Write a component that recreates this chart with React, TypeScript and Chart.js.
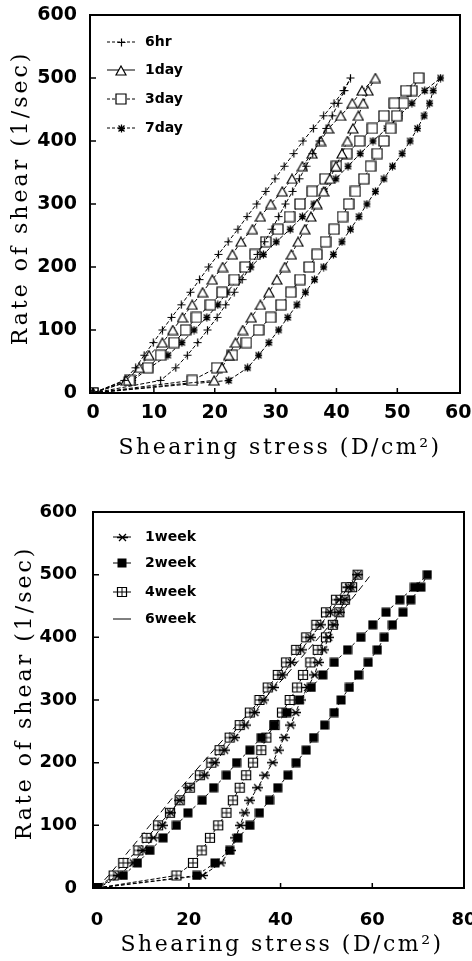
import React, { useEffect, useRef } from 'react';
import { Chart, registerables } from 'chart.js';

Chart.register(...registerables);

// Rate of shear (1/sec) at which every point was read
const RATES = [0, 20, 40, 60, 80, 100, 120, 140, 160, 180, 200, 220, 240, 260, 280, 300, 320, 340, 360, 380, 400, 420, 440, 460, 480, 500];

// ---------- top panel: shearing stress (D/cm²), up curve and down curve ----------
const TOP_LABELS = ['6hr', '1day', '3day', '7day'];
const HR6_UP = [0, 11.1, 13.6, 15.5, 17.2, 18.8, 20.4, 21.8, 23.2, 24.5, 25.8, 27.0, 28.2, 29.4, 30.5, 31.6, 32.8, 33.9, 35.0, 36.1, 37.2, 38.3, 39.3, 40.3, 41.3, 42.3];
const HR6_DOWN = [0, 5.1, 7.0, 8.4, 9.9, 11.4, 12.9, 14.5, 16.0, 17.5, 19.0, 20.6, 22.2, 23.8, 25.3, 26.9, 28.4, 29.9, 31.4, 33.0, 34.5, 36.2, 37.9, 39.6, 41.2, 42.3];
const DAY1_UP = [0, 19.9, 21.2, 22.3, 23.4, 24.6, 26.0, 27.5, 28.9, 30.2, 31.5, 32.6, 33.7, 34.8, 35.8, 36.8, 37.9, 38.9, 39.9, 40.9, 41.8, 42.7, 43.6, 44.4, 45.2, 46.4];
const DAY1_DOWN = [0, 5.4, 7.6, 9.2, 11.4, 13.1, 14.7, 16.3, 18.0, 19.6, 21.3, 22.9, 24.3, 26.2, 27.5, 29.2, 31.1, 32.7, 34.4, 36.0, 37.4, 38.7, 40.7, 42.6, 44.2, 46.4];
const DAY3_UP = [0, 16.3, 20.3, 22.9, 25.2, 27.2, 29.2, 30.9, 32.5, 34.0, 35.5, 36.8, 38.2, 39.6, 41.0, 42.0, 43.1, 44.5, 45.6, 46.7, 47.8, 48.9, 49.9, 51.0, 52.4, 53.5];
const DAY3_DOWN = [0, 6.0, 9.0, 11.1, 13.3, 15.2, 17.0, 19.3, 21.2, 23.2, 25.0, 26.6, 28.4, 30.4, 32.3, 34.0, 36.0, 38.1, 40.0, 41.7, 43.8, 45.9, 47.8, 49.5, 51.4, 53.5];
const DAY7_UP = [0, 22.3, 25.4, 27.2, 28.9, 30.5, 32.0, 33.5, 34.9, 36.4, 37.9, 39.5, 40.9, 42.3, 43.7, 45.0, 46.4, 47.8, 49.2, 50.8, 52.1, 53.3, 54.4, 55.3, 55.9, 57.1];
const DAY7_DOWN = [0, 6.5, 9.3, 12.3, 14.6, 16.6, 18.7, 20.5, 22.0, 23.8, 25.9, 28.0, 30.1, 32.4, 34.4, 36.3, 38.0, 39.9, 41.9, 43.9, 46.0, 48.3, 50.3, 52.4, 54.5, 57.1];

// ---------- bottom panel ----------
const BOTTOM_LABELS = ['1week', '2week', '4week', '6week'];
const WK1_UP = [0, 23.0, 27.0, 29.0, 30.2, 31.2, 32.2, 33.3, 35.0, 36.6, 38.3, 39.5, 40.8, 42.2, 43.3, 44.4, 45.9, 47.4, 48.3, 49.4, 50.5, 51.6, 52.8, 54.1, 55.4, 56.8];
const WK1_DOWN = [0, 4.6, 7.9, 10.0, 12.3, 14.3, 16.0, 18.0, 20.0, 23.5, 25.7, 27.8, 30.0, 32.3, 34.4, 36.3, 38.4, 40.4, 42.4, 44.5, 46.6, 48.7, 50.8, 52.8, 54.8, 56.8];
const WK2_UP = [0, 21.7, 25.7, 28.9, 30.7, 33.3, 35.4, 37.6, 39.4, 41.6, 43.4, 45.6, 47.2, 49.6, 51.7, 53.2, 55.0, 57.0, 59.1, 61.1, 62.6, 64.4, 66.7, 68.4, 70.6, 72.0];
const WK2_DOWN = [0, 5.7, 8.8, 11.5, 14.4, 17.3, 19.8, 22.9, 25.4, 28.2, 30.4, 33.3, 35.8, 38.6, 41.4, 44.1, 46.7, 49.2, 51.7, 54.6, 57.5, 60.1, 63.0, 66.0, 69.2, 72.0];
const WK4_UP = [0, 17.3, 20.9, 22.8, 24.6, 26.4, 28.2, 29.6, 31.1, 32.5, 34.0, 35.8, 36.9, 38.7, 40.3, 42.0, 43.6, 44.9, 46.5, 48.1, 49.9, 51.4, 52.8, 54.0, 55.6, 56.8];
const WK4_DOWN = [0, 3.6, 5.7, 9.0, 10.8, 13.3, 15.9, 18.0, 20.2, 22.4, 24.9, 26.7, 28.9, 31.1, 33.3, 35.4, 37.2, 39.4, 41.2, 43.4, 45.6, 47.8, 49.9, 52.1, 54.3, 56.8];
const WK6_LINE = [0, 2.5, 4.8, 7.0, 9.3, 11.5, 13.8, 16.0, 18.3, 20.6, 23.0, 25.4, 27.9, 30.5, 33.3, 36.2, 38.8, 41.3, 43.6, 46.0, 48.4, 50.8, 53.2, 55.4, 57.6, 59.7];

// ---------- axes ----------
const TOP_X_TICKS = [0, 10, 20, 30, 40, 50, 60];
const BOTTOM_X_TICKS = [0, 20, 40, 60, 80];
const Y_TICKS = [0, 100, 200, 300, 400, 500, 600];
const X_TITLE = 'Shearing stress (D/cm\u00B2)';
const Y_TITLE = 'Rate of shear (1/sec)';

function loop(up: number[], down: number[]) {
  const pts = up.map((x, i) => ({ x, y: RATES[i] }));
  for (let i = down.length - 2; i >= 0; i--) pts.push({ x: down[i], y: RATES[i] });
  return pts;
}
function path(xs: number[]) {
  return xs.map((x, i) => ({ x, y: RATES[i] }));
}

function makeMarker(kind: string): HTMLCanvasElement {
  const sizes: Record<string, [number, number]> = {
    plus: [9, 9], triangle: [12, 11], square: [12, 12], star: [9, 9],
    xbar: [11, 9], filled: [10, 10], grid: [12, 12],
  };
  const [w, h] = sizes[kind];
  const c = document.createElement('canvas');
  c.width = w; c.height = h;
  const g = c.getContext('2d')!;
  g.strokeStyle = '#000';
  g.fillStyle = '#fff';
  g.lineWidth = 1.2;
  const mx = w / 2, my = h / 2;
  g.beginPath();
  if (kind === 'plus') {
    g.moveTo(mx, 0.5); g.lineTo(mx, h - 0.5);
    g.moveTo(0.5, my); g.lineTo(w - 0.5, my);
    g.stroke();
  } else if (kind === 'triangle') {
    g.moveTo(mx, 1); g.lineTo(w - 1, h - 1); g.lineTo(1, h - 1); g.closePath();
    g.fill(); g.stroke();
  } else if (kind === 'square') {
    g.rect(1, 1, w - 2, h - 2); g.fill(); g.stroke();
  } else if (kind === 'star') {
    g.moveTo(mx, 0.5); g.lineTo(mx, h - 0.5);
    g.moveTo(1.5, 1.5); g.lineTo(w - 1.5, h - 1.5);
    g.moveTo(w - 1.5, 1.5); g.lineTo(1.5, h - 1.5);
    g.moveTo(1, my); g.lineTo(w - 1, my);
    g.lineWidth = 1.3; g.stroke();
  } else if (kind === 'xbar') {
    g.moveTo(2, 1); g.lineTo(w - 2, h - 1);
    g.moveTo(w - 2, 1); g.lineTo(2, h - 1);
    g.moveTo(0, my); g.lineTo(w, my);
    g.lineWidth = 1.3; g.stroke();
  } else if (kind === 'filled') {
    g.fillStyle = '#000'; g.fillRect(0.5, 0.5, w - 1, h - 1);
  } else if (kind === 'grid') {
    g.rect(1.5, 1.5, w - 3, h - 3); g.fill(); g.stroke();
    g.beginPath();
    g.moveTo(mx, 1.5); g.lineTo(mx, h - 1.5);
    g.moveTo(1.5, my); g.lineTo(w - 1.5, my);
    g.lineWidth = 1; g.stroke();
  }
  return c;
}

type PanelCfg = {
  top: number; h: number;
  area: { left: number; top: number; right: number; bottom: number };
  xMin: number; xMax: number; xTicks: number[];
  tickFont: number; xPad: number; yPad: number;
  xTitle: [number, number]; yTitle: [number, number];
  legend: { rows: number[]; x1: number; x2: number; mx: number; tx: number };
  series: { label: string; data: { x: number; y: number }[]; marker: string | null; dash: number[]; legendDash: number[] }[];
};

function decorPlugin(cfg: PanelCfg, markers: (HTMLCanvasElement | null)[]) {
  return {
    id: 'decor',
    afterDraw(chart: any) {
      const ctx = chart.ctx as CanvasRenderingContext2D;
      const a = chart.chartArea;
      const xs = chart.scales.x, ys = chart.scales.y;
      ctx.save();
      // frame
      ctx.strokeStyle = '#000';
      ctx.lineWidth = 2;
      ctx.strokeRect(a.left, a.top, a.right - a.left, a.bottom - a.top);
      // inner tick marks
      ctx.lineWidth = 1.5;
      ctx.beginPath();
      cfg.xTicks.forEach((v) => {
        const px = xs.getPixelForValue(v);
        if (px > a.left + 3 && px < a.right - 3) { ctx.moveTo(px, a.bottom); ctx.lineTo(px, a.bottom - 5); }
      });
      Y_TICKS.forEach((v) => {
        const py = ys.getPixelForValue(v);
        if (py > a.top + 3 && py < a.bottom - 3) { ctx.moveTo(a.left, py); ctx.lineTo(a.left + 6, py); }
      });
      ctx.stroke();
      // legend inside the plot
      const L = cfg.legend;
      cfg.series.forEach((s, i) => {
        const y = L.rows[i];
        ctx.lineWidth = 1;
        ctx.setLineDash(s.legendDash);
        ctx.beginPath(); ctx.moveTo(L.x1, y); ctx.lineTo(L.x2, y); ctx.stroke();
        ctx.setLineDash([]);
        const m = markers[i];
        if (m) ctx.drawImage(m, Math.round(L.mx - m.width / 2), Math.round(y - m.height / 2));
        ctx.fillStyle = '#000';
        ctx.font = 'bold 14px "DejaVu Sans"';
        ctx.textAlign = 'left';
        ctx.textBaseline = 'middle';
        ctx.fillText(s.label, L.tx, y);
      });
      // axis titles
      ctx.font = '22px "DejaVu Serif"';
      (ctx as any).letterSpacing = '2.5px';
      ctx.textAlign = 'center';
      ctx.textBaseline = 'middle';
      ctx.fillText(X_TITLE, cfg.xTitle[0], cfg.xTitle[1]);
      ctx.translate(cfg.yTitle[0], cfg.yTitle[1]);
      ctx.rotate(-Math.PI / 2);
      (ctx as any).letterSpacing = '3px';
      ctx.fillText(Y_TITLE, 0, 0);
      ctx.restore();
    },
  };
}

function Panel({ cfg }: { cfg: PanelCfg }) {
  const ref = useRef<HTMLCanvasElement>(null);
  useEffect(() => {
    const markers = cfg.series.map((s) => (s.marker ? makeMarker(s.marker) : null));
    const a = cfg.area;
    const W = 472;
    const tickFont = { family: 'DejaVu Sans', weight: 'bold' as const, size: cfg.tickFont, lineHeight: 1.2 };
    const chart = new Chart(ref.current!, {
      type: 'scatter',
      data: {
        datasets: cfg.series.map((s, i) => ({
          label: s.label,
          data: s.data,
          showLine: true,
          borderColor: '#000',
          backgroundColor: '#000',
          borderWidth: 1,
          borderDash: s.dash,
          tension: 0,
          pointStyle: markers[i] || 'circle',
          pointRadius: markers[i] ? 4 : 0,
        })),
      },
      options: {
        responsive: false,
        animation: false,
        devicePixelRatio: 1,
        events: [],
        layout: { padding: { left: 0, top: a.top, right: W - a.right, bottom: 0 } },
        plugins: { legend: { display: false }, tooltip: { enabled: false } },
        scales: {
          x: {
            type: 'linear',
            min: cfg.xMin,
            max: cfg.xMax,
            grid: { display: false },
            border: { display: false },
            ticks: { color: '#000', font: tickFont, padding: cfg.xPad, maxRotation: 0, autoSkip: false },
            afterBuildTicks: (s: any) => { s.ticks = cfg.xTicks.map((v) => ({ value: v })); },
            afterFit: (s: any) => { s.height = cfg.h - a.bottom; s.paddingLeft = 0; s.paddingRight = 0; },
          },
          y: {
            type: 'linear',
            min: 0,
            max: 600,
            grid: { display: false },
            border: { display: false },
            ticks: { color: '#000', font: tickFont, padding: cfg.yPad, autoSkip: false },
            afterBuildTicks: (s: any) => { s.ticks = Y_TICKS.map((v) => ({ value: v })); },
            afterFit: (s: any) => { s.width = a.left; s.paddingTop = 0; s.paddingBottom = 0; },
          },
        },
      },
      plugins: [decorPlugin(cfg, markers)],
    } as any);
    return () => chart.destroy();
  }, []);
  return (
    <canvas
      ref={ref}
      width={472}
      height={cfg.h}
      style={{ position: 'absolute', left: 0, top: cfg.top, width: 472, height: cfg.h, display: 'block' }}
    />
  );
}

const TOP_CFG: PanelCfg = {
  top: 0, h: 480,
  area: { left: 90, top: 15, right: 460, bottom: 393 },
  xMin: -0.5, xMax: 60.3, xTicks: TOP_X_TICKS,
  tickFont: 19, xPad: 1, yPad: 5,
  xTitle: [280, 448], yTitle: [21, 198],
  legend: { rows: [42, 70, 99, 128], x1: 107, x2: 135, mx: 121, tx: 145 },
  series: [
    { label: TOP_LABELS[0], data: loop(HR6_UP, HR6_DOWN), marker: 'plus', dash: [4, 2], legendDash: [3, 2] },
    { label: TOP_LABELS[1], data: loop(DAY1_UP, DAY1_DOWN), marker: 'triangle', dash: [4, 2], legendDash: [] },
    { label: TOP_LABELS[2], data: loop(DAY3_UP, DAY3_DOWN), marker: 'square', dash: [4, 2], legendDash: [3, 2] },
    { label: TOP_LABELS[3], data: loop(DAY7_UP, DAY7_DOWN), marker: 'star', dash: [4, 2], legendDash: [3, 2] },
  ],
};

const BOTTOM_CFG: PanelCfg = {
  top: 480, h: 481,
  area: { left: 93, top: 32, right: 464, bottom: 408 },
  xMin: -0.9, xMax: 80, xTicks: BOTTOM_X_TICKS,
  tickFont: 18, xPad: 14, yPad: 8,
  xTitle: [282, 465], yTitle: [25, 213],
  legend: { rows: [57, 83, 112, 139], x1: 113, x2: 131, mx: 122, tx: 145 },
  series: [
    { label: BOTTOM_LABELS[0], data: loop(WK1_UP, WK1_DOWN), marker: 'xbar', dash: [4, 2], legendDash: [] },
    { label: BOTTOM_LABELS[1], data: loop(WK2_UP, WK2_DOWN), marker: 'filled', dash: [3, 3], legendDash: [] },
    { label: BOTTOM_LABELS[2], data: loop(WK4_UP, WK4_DOWN), marker: 'grid', dash: [4, 2], legendDash: [] },
    { label: BOTTOM_LABELS[3], data: path(WK6_LINE), marker: null, dash: [7, 4], legendDash: [] },
  ],
};

export default function App() {
  return (
    <div style={{ position: 'absolute', left: 0, top: 0, width: 472, height: 961, overflow: 'hidden', background: '#fff' }}>
      <Panel cfg={TOP_CFG} />
      <Panel cfg={BOTTOM_CFG} />
    </div>
  );
}
